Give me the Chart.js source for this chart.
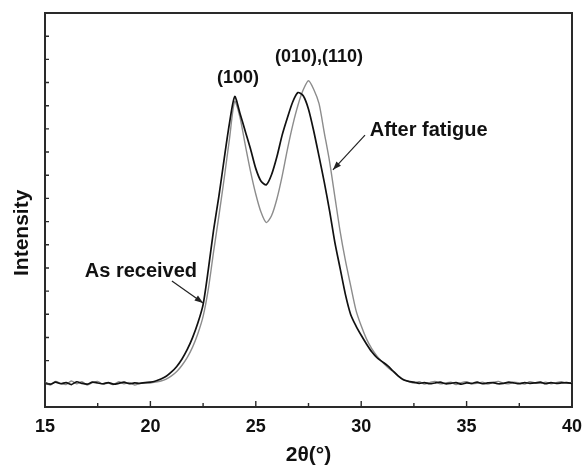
<!DOCTYPE html>
<html>
<head>
<meta charset="utf-8">
<script src="https://cdn.jsdelivr.net/npm/chart.js@4/dist/chart.umd.min.js"></script>
<style>
  html, body { margin: 0; padding: 0; background: #fff; overflow: hidden; }
  #wrap { width: 586px; height: 468px; }
</style>
</head>
<body>
<div id="wrap"><canvas id="xrd"></canvas></div>
<script>
// 2θ positions (deg)
const twoTheta = [
  15.0, 15.25, 15.5, 15.75, 16.0, 16.25, 16.5, 16.75, 17.0, 17.25,
  17.5, 17.75, 18.0, 18.25, 18.5, 18.75, 19.0, 19.25, 19.5, 19.75,
  20.0, 20.25, 20.5, 20.75, 21.0, 21.25, 21.5, 21.75, 22.0, 22.25,
  22.5, 22.75, 23.0, 23.25, 23.5, 23.75, 24.0, 24.25, 24.5, 24.75,
  25.0, 25.25, 25.5, 25.75, 26.0, 26.25, 26.5, 26.75, 27.0, 27.25,
  27.5, 27.75, 28.0, 28.25, 28.5, 28.75, 29.0, 29.25, 29.5, 29.75,
  30.0, 30.25, 30.5, 30.75, 31.0, 31.25, 31.5, 31.75, 32.0, 32.25,
  32.5, 32.75, 33.0, 33.25, 33.5, 33.75, 34.0, 34.25, 34.5, 34.75,
  35.0, 35.25, 35.5, 35.75, 36.0, 36.25, 36.5, 36.75, 37.0, 37.25,
  37.5, 37.75, 38.0, 38.25, 38.5, 38.75, 39.0, 39.25, 39.5, 39.75,
  40.0
];

// intensity, arbitrary units
const asReceived = [
  6.1, 5.8, 6.3, 5.9, 6.2, 5.7, 6.4, 6.0, 5.8, 6.3,
  6.1, 5.9, 6.2, 5.8, 6.0, 6.3, 5.9, 6.1, 6.0, 6.2,
  6.3, 6.6, 7.1, 7.8, 8.9, 10.3, 12.2, 14.6, 17.6, 21.3,
  26.0, 35.0, 45.0, 53.5, 63.0, 72.0, 78.8, 74.5, 70.0, 65.5,
  60.5, 57.3, 56.4, 59.0, 63.5, 69.0, 73.4, 77.4, 79.8, 79.0,
  75.6, 70.0, 63.6, 57.0, 49.8, 41.8, 35.2, 28.6, 23.5, 20.6,
  18.2, 16.0, 14.0, 12.5, 11.5, 10.5, 9.2, 7.9, 6.9, 6.5,
  6.3, 6.0, 6.2, 5.9, 6.1, 6.3, 5.9, 6.0, 6.2, 5.8,
  6.1, 6.0, 6.3, 5.9, 6.1, 6.2, 5.9, 6.0, 6.3, 6.1,
  5.9, 6.2, 6.0, 6.1, 6.3, 5.9, 6.2, 6.0, 6.1, 6.2,
  6.0
];

const afterFatigue = [
  6.3, 5.6, 6.5, 6.0, 5.7, 6.6, 5.9, 6.4, 5.6, 6.2,
  6.5, 5.8, 6.1, 5.7, 6.4, 5.9, 6.2, 5.6, 6.0, 6.1,
  6.1, 6.3, 6.6, 7.1, 7.9, 9.0, 10.6, 12.6, 15.2, 18.6,
  23.0, 30.0, 39.5, 48.5, 58.0, 68.0, 77.6, 73.5, 66.5, 59.8,
  54.0, 49.4, 46.8, 48.6, 52.8, 58.6, 65.4, 71.5, 76.6, 80.5,
  82.8, 80.6, 77.0, 69.6, 62.3, 53.4, 44.6, 37.2, 30.8, 24.6,
  20.6, 17.3, 14.8, 12.9, 11.4, 10.1, 9.0, 7.9, 7.0, 6.5,
  6.1, 6.4, 5.8, 6.2, 6.5, 5.9, 6.1, 6.3, 5.7, 6.2,
  6.4, 5.9, 6.0, 6.3, 5.8, 6.2, 6.5, 6.0, 5.9, 6.3,
  6.1, 5.8, 6.4, 6.1, 6.0, 6.3, 5.9, 6.2, 6.4, 6.0,
  6.2
];

const xTickLabels = [15, 20, 25, 30, 35, 40];

// peak labels [text, 2θ, intensity]
const peakLabels = [
  ["(100)", 24.16, 83.5],
  ["(010),(110)", 28.0, 88.8]
];
// text, text x, text y, arrow from (x,y), arrow to (x,y)
const callouts = [
  ["As received", 19.55, 34.3, 21.02, 32.0, 22.5, 26.4],
  ["After fatigue", 33.2, 70.3, 30.18, 69.0, 28.66, 60.2]
];

Chart.defaults.font.family = "'Liberation Sans', Arial, sans-serif";
Chart.defaults.color = "#111";

const frameLine = { display: true, color: "#2a2a2a", width: 2 };

const notes = {
  id: "notes",
  afterDraw(chart) {
    const ctx = chart.ctx;
    const xs = chart.scales.x, ys = chart.scales.y;
    const L = xs.left, R = xs.right, T = ys.top, B = ys.bottom;
    ctx.save();

    // inward ticks
    ctx.strokeStyle = "#2a2a2a";
    ctx.lineWidth = 1.4;
    ctx.beginPath();
    xs.ticks.forEach(t => {
      const px = xs.getPixelForValue(t.value);
      if (px <= L + 1 || px >= R - 1) return;
      const len = (t.value % 5 === 0) ? 6 : 4;
      ctx.moveTo(px, B);
      ctx.lineTo(px, B - len);
    });
    ys.ticks.forEach(t => {
      const py = ys.getPixelForValue(t.value);
      if (py <= T + 1 || py >= B - 1) return;
      ctx.moveTo(L, py);
      ctx.lineTo(L + 4, py);
    });
    ctx.stroke();

    // y title
    ctx.fillStyle = "#111";
    ctx.font = "bold 21px 'Liberation Sans', Arial, sans-serif";
    ctx.textAlign = "center";
    ctx.textBaseline = "middle";
    ctx.save();
    ctx.translate(22, ys.getPixelForValue(44.2));
    ctx.rotate(-Math.PI / 2);
    ctx.fillText("Intensity", 0, 0);
    ctx.restore();

    // peak labels
    ctx.font = "bold 18px 'Liberation Sans', Arial, sans-serif";
    peakLabels.forEach(p => {
      ctx.fillText(p[0], xs.getPixelForValue(p[1]), ys.getPixelForValue(p[2]));
    });

    // callouts with arrows
    ctx.font = "bold 20px 'Liberation Sans', Arial, sans-serif";
    callouts.forEach(c => {
      ctx.fillStyle = "#111";
      ctx.fillText(c[0], xs.getPixelForValue(c[1]), ys.getPixelForValue(c[2]));
      const x1 = xs.getPixelForValue(c[3]), y1 = ys.getPixelForValue(c[4]);
      const x2 = xs.getPixelForValue(c[5]), y2 = ys.getPixelForValue(c[6]);
      ctx.strokeStyle = "#222";
      ctx.lineWidth = 1.2;
      ctx.beginPath();
      ctx.moveTo(x1, y1);
      ctx.lineTo(x2, y2);
      ctx.stroke();
      const a = Math.atan2(y2 - y1, x2 - x1);
      const h = 9, w = 0.35;
      ctx.beginPath();
      ctx.moveTo(x2, y2);
      ctx.lineTo(x2 - h * Math.cos(a - w), y2 - h * Math.sin(a - w));
      ctx.lineTo(x2 - h * Math.cos(a + w), y2 - h * Math.sin(a + w));
      ctx.closePath();
      ctx.fillStyle = "#222";
      ctx.fill();
    });

    ctx.restore();
  }
};

new Chart(document.getElementById("xrd"), {
  type: "line",
  data: {
    datasets: [
      {
        label: "As received",
        data: twoTheta.map((t, i) => ({ x: t, y: asReceived[i] })),
        borderColor: "#111",
        borderWidth: 1.7,
        pointRadius: 0,
        tension: 0.25
      },
      {
        label: "After fatigue",
        data: twoTheta.map((t, i) => ({ x: t, y: afterFatigue[i] })),
        borderColor: "#8c8c8c",
        borderWidth: 1.4,
        pointRadius: 0,
        tension: 0.25
      }
    ]
  },
  options: {
    responsive: true,
    maintainAspectRatio: false,
    animation: false,
    layout: { padding: { left: 0, right: 14, top: 13, bottom: 0 } },
    plugins: {
      legend: { display: false },
      tooltip: { enabled: false }
    },
    scales: {
      x: {
        type: "linear",
        min: 15,
        max: 40,
        grid: { display: false, drawTicks: false },
        border: frameLine,
        ticks: {
          stepSize: 2.5,
          autoSkip: false,
          maxRotation: 0,
          padding: 9,
          font: { size: 18, weight: "bold" },
          callback: v => xTickLabels.includes(v) ? String(v) : ""
        },
        title: {
          display: true,
          text: "2θ(°)",
          font: { size: 21, weight: "bold" },
          padding: { top: 0, bottom: 0 }
        },
        afterFit: s => { s.height = 61; s.paddingLeft = 0; s.paddingRight = 0; }
      },
      xTop: {
        type: "linear",
        position: "top",
        min: 15,
        max: 40,
        grid: { display: false, drawTicks: false },
        border: frameLine,
        ticks: { display: false },
        afterFit: s => { s.height = 0; s.paddingLeft = 0; s.paddingRight = 0; }
      },
      y: {
        min: 0,
        max: 100,
        grid: { display: false, drawTicks: false },
        border: frameLine,
        ticks: { display: false, stepSize: 100 / 17 },
        afterFit: s => { s.width = 45; }
      },
      yRight: {
        position: "right",
        min: 0,
        max: 100,
        grid: { display: false, drawTicks: false },
        border: frameLine,
        ticks: { display: false },
        afterFit: s => { s.width = 0; }
      }
    }
  },
  plugins: [notes]
});
</script>
</body>
</html>
